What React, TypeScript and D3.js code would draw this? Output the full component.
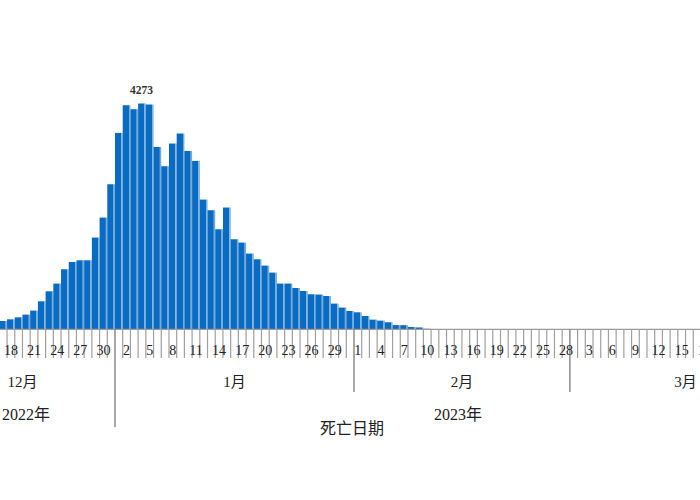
import React from "react";
import * as d3 from "d3";

// Axis domain (days shown on the axis)
const axisStart = new Date(2022, 11, 8);
const axisEnd = new Date(2023, 2, 31); // exclusive

// Daily deaths, first value = 2022-12-17
const barStart = new Date(2022, 11, 17);
const deaths = [
  157, 189, 227, 278, 354, 530, 719, 865, 1136, 1274, 1306, 1306, 1736, 2114, 2745,
  3716, 4240, 4165, 4273, 4254, 3451, 3086, 3515, 3705, 3375, 3186, 2455, 2253, 1893, 2304,
  1704, 1641, 1433, 1325, 1205, 1073, 865, 865, 782, 725, 663, 657, 630, 486, 411, 347,
  322, 252, 183, 164, 133, 80, 78, 44, 35, 10,
];

const monthLabels = ["12月", "1月", "2月", "3月"];
const yearLabels = ["2022年", "2023年"];
const axisTitle = "死亡日期";
const tickEvery = 3;

const W = 700;
const H = 500;
const serif = "'Liberation Serif', 'DejaVu Serif', 'Noto Sans CJK SC', serif";
const cjk = "'Noto Sans CJK SC', sans-serif";

export default function App() {
  const days = d3.timeDay.range(axisStart, axisEnd);
  const key = (d: Date) => d3.timeFormat("%Y-%m-%d")(d);
  const x = d3
    .scaleBand<string>()
    .domain(days.map(key))
    .range([-70.04, -70.04 + days.length * 7.71])
    .padding(0);
  const bw = x.bandwidth();
  const baseline = 329.3;
  const maxV = d3.max(deaths) as number;
  const y = d3.scaleLinear().domain([0, maxV]).range([baseline, 103.5]);

  const bars = deaths.map((v, i) => ({ date: d3.timeDay.offset(barStart, i), v }));
  const peak = bars.find((b) => b.v === maxV)!;

  const months = d3.timeMonth.range(d3.timeMonth.floor(axisStart), axisEnd);
  const monthSpans = months.map((m, i) => {
    const s = m < axisStart ? axisStart : m;
    const nextM = d3.timeMonth.offset(m, 1);
    const e = nextM > axisEnd ? axisEnd : nextM;
    const x0 = x(key(s)) as number;
    const x1 = (x(key(d3.timeDay.offset(e, -1))) as number) + bw;
    return { label: monthLabels[i], x0, x1, start: s };
  });
  const years = [
    { label: yearLabels[0], s: axisStart, e: new Date(2023, 0, 1) },
    { label: yearLabels[1], s: new Date(2023, 0, 1), e: axisEnd },
  ].map((yy) => ({
    label: yy.label,
    x0: x(key(yy.s)) as number,
    x1: (x(key(d3.timeDay.offset(yy.e, -1))) as number) + bw,
  }));

  const xEnd = (x(key(days[days.length - 1])) as number) + bw;
  const boundaries = days.map((d) => x(key(d)) as number).concat([xEnd]);
  const boundaryDates = days.concat([axisEnd]);

  return (
    <svg
      width={W}
      height={H}
      style={{ position: "absolute", left: 0, top: 0, background: "#fff" }}
    >
      {/* bars */}
      {bars.map((b) => {
        const bx = x(key(b.date)) as number;
        const top = y(b.v);
        const h = baseline - top;
        return (
          <g key={key(b.date)}>
            <rect x={bx} y={top} width={bw - 1.4} height={h} fill="#0a6bc2" />
            <rect x={bx + bw - 1.4} y={top} width={1.4} height={h} fill="#74abdc" />
          </g>
        );
      })}
      {/* peak label */}
      <text
        x={(x(key(peak.date)) as number) + bw / 2 - 0.5}
        y={y(peak.v) - 10}
        textAnchor="middle"
        fontFamily={serif}
        fontSize={11.5}
        fontWeight={600}
        fill="#333"
      >
        {peak.v}
      </text>
      {/* baseline */}
      <line x1={-70} x2={xEnd} y1={baseline} y2={baseline} stroke="#9a9a9a" strokeWidth={1.2} />
      {/* ticks */}
      {boundaries.map((bx, i) => {
        const d = boundaryDates[i];
        const isYear = d.getMonth() === 0 && d.getDate() === 1;
        const isMonth = d.getDate() === 1;
        const y2 = isYear ? 427 : isMonth ? 392 : 358;
        return (
          <line
            key={i}
            x1={bx}
            x2={bx}
            y1={baseline}
            y2={y2}
            stroke={isMonth ? "#7a7a7a" : "#a0a0a0"}
            strokeWidth={isMonth ? 1.3 : 1.2}
          />
        );
      })}
      {/* day labels */}
      {days.map((d, i) => {
        const cx = (x(key(d)) as number) + bw / 2;
        if (i % tickEvery !== 1 || cx < 0 || cx > 706) return null;
        return (
          <text
            key={"l" + i}
            x={cx}
            y={355}
            textAnchor="middle"
            fontFamily={serif}
            fontSize={14}
            fill="#222"
          >
            {d.getDate()}
          </text>
        );
      })}
      {/* month labels */}
      {monthSpans.map((m) => (
        <text
          key={m.label}
          x={(m.x0 + m.x1) / 2}
          y={387}
          textAnchor="middle"
          fontFamily={serif}
          fontSize={15}
          fill="#222"
        >
          {m.label}
        </text>
      ))}
      {/* year labels */}
      {years.map((yy) => (
        <text
          key={yy.label}
          x={Math.max((yy.x0 + yy.x1) / 2, 26)}
          y={420}
          textAnchor="middle"
          fontFamily={serif}
          fontSize={16}
          fill="#222"
        >
          {yy.label}
        </text>
      ))}
      <text x={352} y={434} textAnchor="middle" fontFamily={cjk} fontSize={16} fill="#222">
        {axisTitle}
      </text>
    </svg>
  );
}
